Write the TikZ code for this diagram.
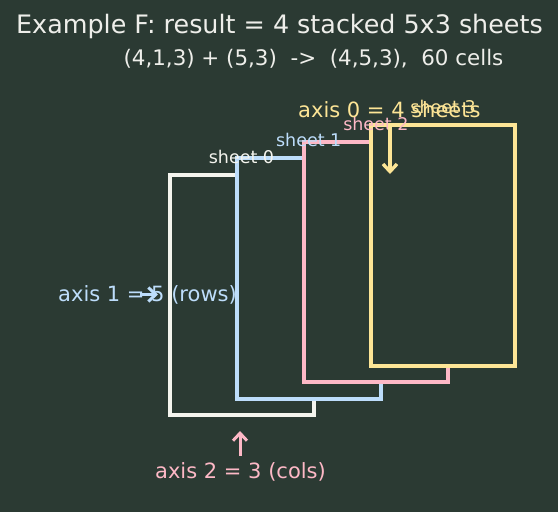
\documentclass[tikz,border=0pt]{standalone}
\usepackage{fontspec}
\setmainfont{DejaVu Sans}
\usetikzlibrary{positioning,arrows.meta}
\definecolor{bgcol}{HTML}{2B3A33}
\definecolor{txtcol}{HTML}{EEEEEA}
\definecolor{sheetwhite}{HTML}{F4F4EE}
\definecolor{sheetblue}{HTML}{BDDDFB}
\definecolor{sheetpink}{HTML}{FDB8C6}
\definecolor{sheetyellow}{HTML}{FDE596}
\begin{document}
\begin{tikzpicture}[x=1pt,y=-1pt,
	sheet/.style={line width=4pt, fill=bgcol, minimum width=144pt, minimum height=240.5pt, inner sep=0pt},
	sheetlabel/.style={font=\fontsize{17.5}{20}\selectfont, inner sep=0pt, above=9pt},
	axislabel/.style={font=\fontsize{21}{25}\selectfont, inner sep=0pt},
	axisarrow/.style={-{Straight Barb[length=7.5pt, width=14pt]}, line width=3pt}]
	\fill[bgcol] (0,0) rectangle (558,512);
	\useasboundingbox (0,0) rectangle (558,512);
	\node[font=\fontsize{25.4}{30}\selectfont, txtcol, anchor=base, inner sep=0pt] (title) at (279.5,33.3) {Example F: result = 4 stacked 5x3 sheets};
	\node[axislabel, font=\fontsize{21.4}{25}\selectfont, txtcol, anchor=base] (shape) at (313.5,65) {(4,1,3) + (5,3)\ \ ->\ \ (4,5,3),\ \ 60 cells};
	\node[sheet, draw=sheetwhite] (S0) at (241.5,295.2) {};
	\node[sheet, draw=sheetblue] (S1) at (308.7,278.6) {};
	\node[sheet, draw=sheetpink] (S2) at (375.9,262.0) {};
	\node[sheet, draw=sheetyellow] (S3) at (443.1,245.4) {};
	\node[sheetlabel, sheetwhite] (L0) at (S0.north) {sheet 0};
	\node[sheetlabel, sheetblue] (L1) at (S1.north) {sheet 1};
	\node[sheetlabel, sheetpink] (L2) at (S2.north) {sheet 2};
	\node[sheetlabel, sheetyellow] (L3) at (S3.north) {sheet 3};
	\node[axislabel, sheetyellow, anchor=base west] (A0) at (298,117.7) {axis 0 = 4 sheets};
	\node[axislabel, sheetblue, anchor=base west] (A1) at (58,301.7) {axis 1 = 5 (rows)};
	\node[axislabel, sheetpink, anchor=base] (A2) at (240.5,478.3) {axis 2 = 3 (cols)};
	\coordinate (a0s) at (390,125);
	\coordinate (a0e) at (390,174);
	\coordinate (a1s) at (140,294.5);
	\coordinate (a1e) at (158,294.5);
	\coordinate (a2s) at (240,456);
	\coordinate (a2e) at (240,431);
	\draw[axisarrow, sheetyellow, line width=3.4pt] (a0s) -- (a0e);
	\draw[axisarrow, sheetblue] (a1s) -- (a1e);
	\draw[axisarrow, sheetpink] (a2s) -- (a2e);
\end{tikzpicture}
\end{document}
